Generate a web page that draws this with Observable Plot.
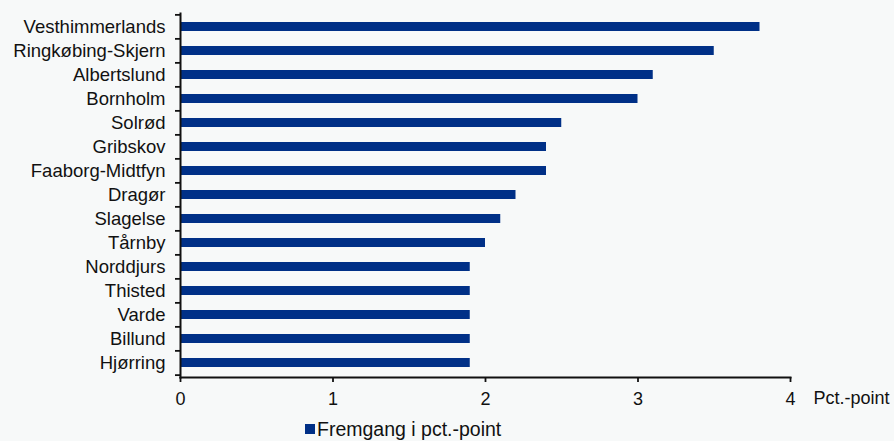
<!DOCTYPE html>
<html>
<head>
<meta charset="utf-8">
<script src="https://cdn.jsdelivr.net/npm/d3@7"></script>
<script src="https://cdn.jsdelivr.net/npm/@observablehq/plot@0.6"></script>
<style>
  html, body { margin: 0; padding: 0; background: #f7f9f9; }
  #wrap { width: 894px; height: 441px; position: relative; overflow: hidden; font-family: Arial, "Liberation Sans", sans-serif; }
  #legend { position: absolute; left: 305px; top: 419px; height: 20px; line-height: 20px; display: flex; align-items: center; font-size: 19.5px; color: #111; white-space: nowrap; }
  #legend .sw { width: 10px; height: 10px; background: #003087; margin-right: 2px; }
</style>
</head>
<body>
<div id="wrap"><div id="chart"></div><div id="legend"><span class="sw"></span><span id="legtext"></span></div></div>
<script>
const categories = ["Vesthimmerlands","Ringkøbing-Skjern","Albertslund","Bornholm","Solrød","Gribskov","Faaborg-Midtfyn","Dragør","Slagelse","Tårnby","Norddjurs","Thisted","Varde","Billund","Hjørring"];
const values = [3.8, 3.5, 3.1, 3.0, 2.5, 2.4, 2.4, 2.2, 2.1, 2.0, 1.9, 1.9, 1.9, 1.9, 1.9];
const xTicks = [0, 1, 2, 3, 4];
const seriesName = "Fremgang i pct.-point";
const unitLabel = "Pct.-point";
const barColor = "#003087";

const data = categories.map((c, i) => ({name: c, value: values[i]}));

const H = 416, mT = 13, mB = 39;
const step = (H - mT - mB) / categories.length;

const chart = Plot.plot({
  width: 894,
  height: H,
  marginLeft: 180,
  marginRight: 104,
  marginTop: mT,
  marginBottom: mB,
  style: {background: "transparent", fontFamily: "Arial, 'Liberation Sans', sans-serif", fontSize: "18px", color: "#111"},
  x: {domain: [0, 4], ticks: xTicks, tickFormat: d => String(d)},
  y: {domain: categories, paddingInner: 0.62, paddingOuter: 0.31},
  marks: [
    Plot.barX(data, {x: "value", y: "name", fill: barColor}),
    Plot.axisY({tickSize: 0, tickPadding: 15, fontSize: 18.5, label: null}),
    Plot.ruleY(categories, {y: d => d, x1: 0, x2: 0, insetLeft: -5, dy: -step / 2, stroke: "#111", strokeWidth: 1.8}),
    Plot.ruleY([categories[categories.length - 1]], {y: d => d, x1: 0, x2: 0, insetLeft: -5, dy: step / 2, stroke: "#111", strokeWidth: 1.8}),
    Plot.axisX({ticks: xTicks, tickFormat: d => String(d), tickSize: 5, tickPadding: 10, fontSize: 18, label: null, strokeWidth: 1.8, stroke: "#111"}),
    Plot.frame({anchor: "bottom", stroke: "#111", strokeWidth: 2}),
    Plot.frame({anchor: "left", stroke: "#111", strokeWidth: 2}),
    Plot.text([unitLabel], {x: 4, frameAnchor: "bottom", dx: 23, dy: 21, textAnchor: "start", lineAnchor: "middle", fontSize: 18, fill: "#111"})
  ]
});
document.getElementById("chart").appendChild(chart);
document.getElementById("legtext").textContent = seriesName;
</script>
</body>
</html>
